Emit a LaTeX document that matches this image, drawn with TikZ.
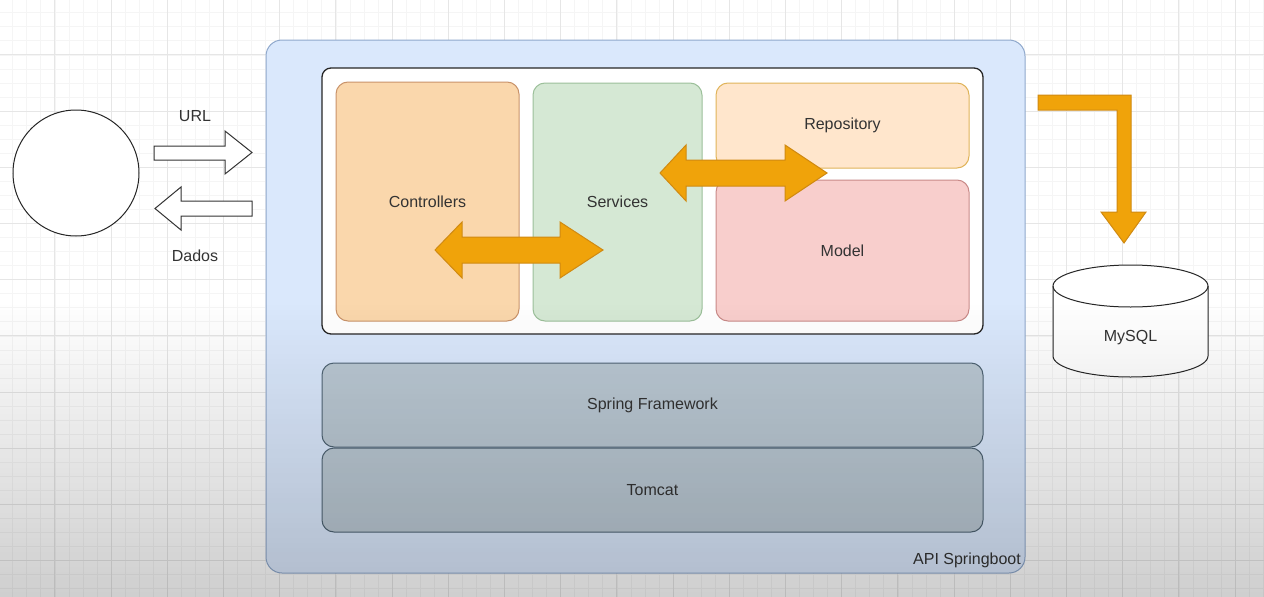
\documentclass[tikz,border=0pt]{standalone}
\usepackage{fontspec}
\setmainfont{Liberation Sans}
\definecolor{txt}{HTML}{333333}
\definecolor{gridmin}{HTML}{F5F5F5}
\definecolor{gridmaj}{HTML}{E6E6E6}
\definecolor{apifill}{HTML}{DAE8FC}
\definecolor{apidraw}{HTML}{8FA8CC}
\definecolor{ctrlfill}{HTML}{FAD7AC}
\definecolor{ctrldraw}{HTML}{C9936A}
\definecolor{svcfill}{HTML}{D5E8D4}
\definecolor{svcdraw}{HTML}{9CC09A}
\definecolor{repfill}{HTML}{FFE6CC}
\definecolor{repdraw}{HTML}{E0B45A}
\definecolor{modfill}{HTML}{F8CECC}
\definecolor{moddraw}{HTML}{C98A88}
\definecolor{layfill}{HTML}{BAC8D3}
\definecolor{laydraw}{HTML}{4F6474}
\definecolor{orfill}{HTML}{F0A30A}
\definecolor{ordraw}{HTML}{D08A12}
\tikzset{
  lbl/.style={font=\fontsize{16}{19}\selectfont, text=txt, inner sep=0pt},
  box/.style={rectangle, rounded corners=12pt, line width=1pt, inner sep=0pt, outer sep=0pt, lbl},
  apibox/.style={box, rounded corners=16pt, fill=apifill, draw=apidraw},
  appbox/.style={box, rounded corners=9pt, fill=white, draw=black!85, line width=1.3pt},
  ctrlbox/.style={box, fill=ctrlfill, draw=ctrldraw},
  svcbox/.style={box, fill=svcfill, draw=svcdraw},
  repbox/.style={box, fill=repfill, draw=repdraw},
  modbox/.style={box, fill=modfill, draw=moddraw},
  laybox/.style={box, fill=layfill, draw=laydraw},
  blockarrow/.style={fill=white, draw=black!80, line width=1pt, line join=miter},
  orarrow/.style={fill=orfill, draw=ordraw, line width=1pt, line join=miter},
}
\begin{document}
\begin{tikzpicture}[x=1pt,y=-1pt]
\useasboundingbox (0,0) rectangle (1264,597);
\fill[white] (0,0) rectangle (1264,597);
% grid
\foreach \k in {0,...,91} \draw[gridmin, line width=0.8pt] ({-1.3+14.05*\k},0) -- ({-1.3+14.05*\k},597);
\foreach \k in {0,...,43} \draw[gridmin, line width=0.8pt] (0,{-1.3+14.05*\k}) -- (1264,{-1.3+14.05*\k});
\foreach \k in {0,...,23} \draw[gridmaj, line width=1pt] ({-1.3+56.2*\k},0) -- ({-1.3+56.2*\k},597);
\foreach \k in {0,...,11} \draw[gridmaj, line width=1pt] (0,{-1.3+56.2*\k}) -- (1264,{-1.3+56.2*\k});

% client
\node[circle, draw=black!85, fill=white, line width=1pt, minimum size=126pt, inner sep=0pt] (client) at (76,173) {};
\node[lbl] (url) at (195,116) {URL};
\node[lbl] (dados) at (195,256) {Dados};
\draw[blockarrow] (154,146) -- (225,146) -- (225,131) -- (252,152.5) -- (225,174) -- (225,160) -- (154,160) -- cycle;
\draw[blockarrow] (252,201) -- (181,201) -- (181,187) -- (155,208.5) -- (181,230) -- (181,216) -- (252,216) -- cycle;

% api container
\node[apibox, minimum width=759pt, minimum height=533pt] (api) at (645.5,306.5) {};
\node[lbl, anchor=base east] (apilbl) at (1021,564) {API Springboot};
\node[appbox, minimum width=661pt, minimum height=266pt] (app) at (652.5,201) {};
\node[ctrlbox, minimum width=183pt, minimum height=239pt] (ctrl) at (427.5,201.5) {Controllers};
\node[svcbox, minimum width=169pt, minimum height=238pt] (svc) at (617.5,202) {Services};
\node[repbox, minimum width=253pt, minimum height=85pt] (rep) at (842.5,125.5) {Repository};
\node[modbox, minimum width=253pt, minimum height=141pt] (mod) at (842.5,250.5) {Model};
\node[laybox, minimum width=661pt, minimum height=84pt] (spring) at (652.5,405) {Spring Framework};
\node[laybox, minimum width=661pt, minimum height=84pt] (tomcat) at (652.5,490) {Tomcat};

% orange double arrows
\draw[orarrow] (435,250) -- (462,222) -- (462,237) -- (560,237) -- (560,222) -- (603,250) -- (560,278) -- (560,263) -- (462,263) -- (462,278) -- cycle;
\draw[orarrow] (660,173) -- (686,145) -- (686,160) -- (785,160) -- (785,145) -- (827,173) -- (785,201) -- (785,186) -- (686,186) -- (686,201) -- cycle;

% bent arrow to database
\draw[orarrow] (1038,95) -- (1131,95) -- (1131,212) -- (1146,212) -- (1124,243) -- (1101,212) -- (1117,212) -- (1117,110) -- (1038,110) -- cycle;

% database
\fill[white] (1053,286) -- (1053,356) arc (180:360:77.5pt and 21pt) -- (1208,286) arc (0:180:77.5pt and 21pt) -- cycle;
\draw[black!85, line width=1pt] (1053,286) -- (1053,356) arc (180:360:77.5pt and 21pt) -- (1208,286);
\draw[black!85, line width=1pt] (1130.5,286) ellipse [x radius=77.5pt, y radius=21pt];
\node[lbl] (db) at (1130.5,338) {MySQL};

% darkening toward the bottom
\foreach \i in {0,...,59} \fill[black, opacity={0.19*(\i+0.5)/60}] (0,{300+4.95*\i}) rectangle (1264,{300+4.95*(\i+1)});
\end{tikzpicture}
\end{document}
